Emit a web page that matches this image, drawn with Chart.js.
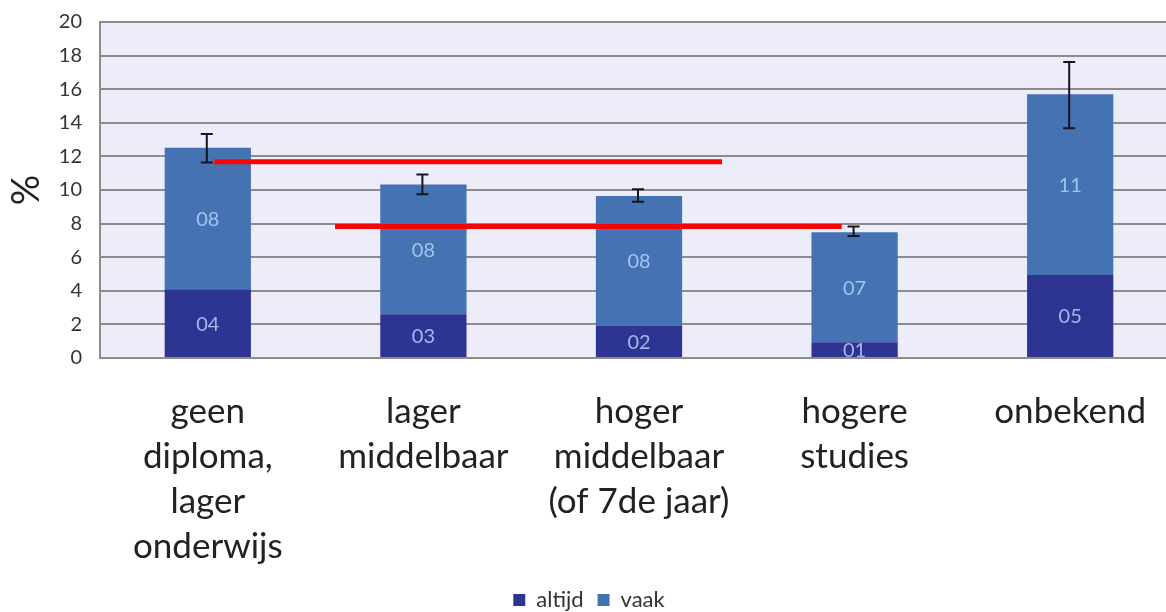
<!DOCTYPE html>
<html>
<head>
<meta charset="utf-8">
<script src="https://cdn.jsdelivr.net/npm/chart.js@4.4.1/dist/chart.umd.min.js"></script>
<style>
  html, body { margin: 0; padding: 0; background: #ffffff; overflow: hidden; }
  #wrap { position: relative; width: 1178px; height: 612px; }
</style>
</head>
<body>
<div id="wrap"><canvas id="chart"></canvas></div>
<script>
// Education level categories (multi-line labels)
const categories = [
  ['geen', 'diploma,', 'lager', 'onderwijs'],
  ['lager', 'middelbaar'],
  ['hoger', 'middelbaar', '(of 7de jaar)'],
  ['hogere', 'studies'],
  ['onbekend']
];

// Stacked shares in %
const altijd = [4.09, 2.60, 1.93, 0.94, 4.94];
const vaak   = [8.43, 7.72, 7.71, 6.54, 10.76];

// Confidence interval on the stacked total
const errLow  = [11.63, 9.74, 9.30, 7.26, 13.67];
const errHigh = [13.33, 10.93, 10.05, 7.82, 17.62];

// Reference lines: level in %, start and end in category index units
const refLevel = [11.68, 7.83];
const refFrom  = [0.03, 0.59];
const refTo    = [2.385, 2.94];

const yTicks = [0, 2, 4, 6, 8, 10, 12, 14, 16, 18, 20];

const FONT = 'Lato, "Open Sans", sans-serif';
const PAD_BOTTOM = -9;

const plotBackground = {
  id: 'plotBackground',
  beforeDraw(chart) {
    const { ctx, chartArea: a } = chart;
    ctx.save();
    ctx.fillStyle = '#EDEDF9';
    ctx.fillRect(a.left, a.top, a.right - a.left, a.bottom - a.top);
    ctx.restore();
  }
};

const overlays = {
  id: 'overlays',
  afterDatasetsDraw(chart) {
    const { ctx } = chart;
    const x = chart.scales.x, y = chart.scales.y;

    // segment value labels
    ctx.save();
    ctx.font = '20px ' + FONT;
    ctx.textAlign = 'center';
    ctx.textBaseline = 'middle';
    chart.data.datasets.forEach((ds, di) => {
      const meta = chart.getDatasetMeta(di);
      meta.data.forEach((bar, i) => {
        const v = ds.data[i];
        const txt = String(Math.round(v)).padStart(2, '0');
        ctx.fillStyle = ds.labelColor;
        ctx.fillText(txt, bar.x, (bar.y + bar.base) / 2 + 1);
      });
    });
    ctx.restore();

    // reference lines
    ctx.save();
    ctx.strokeStyle = '#FF0000';
    ctx.lineWidth = 5;
    refLevel.forEach((lvl, k) => {
      const py = y.getPixelForValue(lvl);
      ctx.beginPath();
      ctx.moveTo(x.getPixelForValue(refFrom[k]), py);
      ctx.lineTo(x.getPixelForValue(refTo[k]), py);
      ctx.stroke();
    });
    ctx.restore();

    // error bars
    ctx.save();
    ctx.strokeStyle = '#141423';
    ctx.lineWidth = 2;
    const cap = 6;
    errLow.forEach((lo, i) => {
      const px = x.getPixelForValue(i) - 1;
      const y1 = y.getPixelForValue(lo), y2 = y.getPixelForValue(errHigh[i]);
      ctx.beginPath();
      ctx.moveTo(px, y1); ctx.lineTo(px, y2);
      ctx.moveTo(px - cap, y1); ctx.lineTo(px + cap, y1);
      ctx.moveTo(px - cap, y2); ctx.lineTo(px + cap, y2);
      ctx.stroke();
    });
    ctx.restore();
  }
};

new Chart(document.getElementById('chart'), {
  type: 'bar',
  data: {
    labels: categories,
    datasets: [
      { label: 'altijd', data: altijd, backgroundColor: '#2E3491', labelColor: '#A9B6EC',
        categoryPercentage: 0.8, barPercentage: 0.5 },
      { label: 'vaak', data: vaak, backgroundColor: '#4472B3', labelColor: '#9EC6EA',
        categoryPercentage: 0.8, barPercentage: 0.5 }
    ]
  },
  options: {
    responsive: true,
    maintainAspectRatio: false,
    animation: false,
    layout: { padding: { top: 22, right: 0, bottom: PAD_BOTTOM, left: 0 } },
    plugins: {
      legend: {
        position: 'bottom',
        labels: {
          boxWidth: 12, boxHeight: 12, padding: 14,
          color: '#333333',
          font: { family: FONT, size: 22 }
        }
      },
      tooltip: { enabled: false }
    },
    scales: {
      x: {
        stacked: true,
        grid: { display: false, drawTicks: false },
        border: { display: true, color: '#8C8C8C', width: 2 },
        ticks: {
          color: '#222222', padding: 31, maxRotation: 0, autoSkip: false,
          font: { family: FONT, size: 35, lineHeight: 45 / 35 }
        },
        afterFit(scale) {
          const lh = scale.chart.legend ? scale.chart.legend.height : 0;
          scale.height = 612 - 358 - lh - PAD_BOTTOM;
        }
      },
      y: {
        stacked: true,
        min: 0, max: 20,
        afterBuildTicks(scale) { scale.ticks = yTicks.map(v => ({ value: v })); },
        grid: { color: '#8C8C8C', lineWidth: 2, drawTicks: true, tickLength: 8, tickColor: 'rgba(0,0,0,0)' },
        border: { display: true, color: '#8C8C8C', width: 2 },
        ticks: {
          color: '#333333', padding: 10,
          font: { family: FONT, size: 20 }
        },
        title: {
          display: true, text: '%', color: '#222222',
          font: { family: FONT, size: 38 },
          padding: { top: 4, bottom: 0 }
        },
        afterFit(scale) { scale.width = 100; }
      }
    }
  },
  plugins: [plotBackground, overlays]
});
</script>
</body>
</html>
